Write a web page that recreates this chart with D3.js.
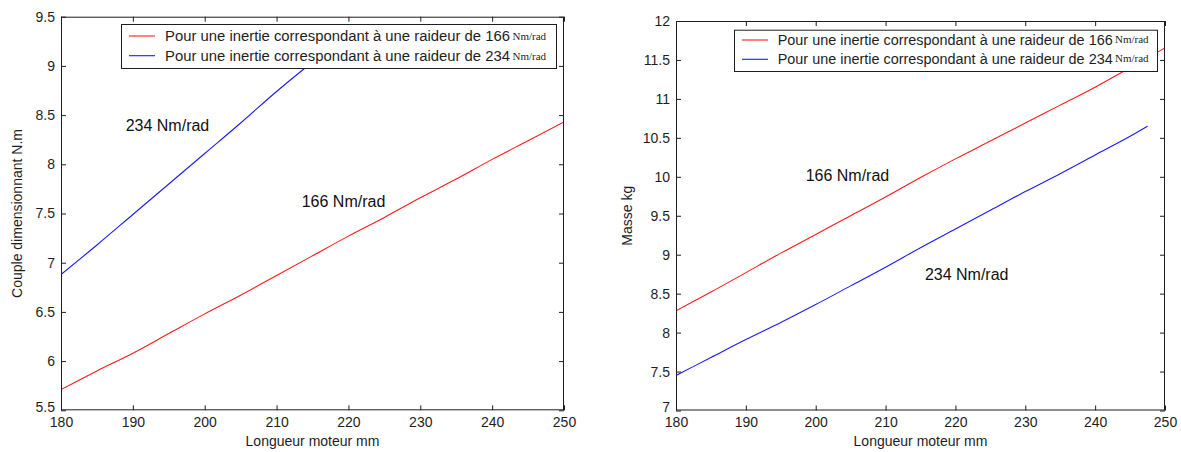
<!DOCTYPE html>
<html><head><meta charset="utf-8">
<script src="https://cdn.jsdelivr.net/npm/d3@7"></script>
<style>
html,body{margin:0;padding:0;background:#fff;}
svg{display:block;font-family:"Liberation Sans",Arial,sans-serif;}
</style></head>
<body><svg id="c" width="1181" height="452"></svg>
<script>
// ---------- data ----------
const xTicks = [180,190,200,210,220,230,240,250];
const xTickLabels = ["180","190","200","210","220","230","240","250"];
const leftYTicks = [5.5,6,6.5,7,7.5,8,8.5,9,9.5];
const leftYTickLabels = ["5.5","6","6.5","7","7.5","8","8.5","9","9.5"];
const rightYTicks = [7,7.5,8,8.5,9,9.5,10,10.5,11,11.5,12];
const rightYTickLabels = ["7","7.5","8","8.5","9","9.5","10","10.5","11","11.5","12"];

const lengths = [180,185,190,195,200,205,210,215,220,225,230,235,240,245,250];
// Left chart: Couple dimensionnant (N.m)
const coupleRaideur166 = [5.71,5.90,6.08,6.28,6.48,6.67,6.87,7.07,7.27,7.46,7.66,7.85,8.05,8.24,8.43];
const lengthsCouple234 = [180,185,190,195,200,205,210,215];
const coupleRaideur234 = [6.88,7.18,7.49,7.80,8.11,8.42,8.74,9.04];
// Right chart: Masse (kg)
const masseRaideur166 = [8.28,8.52,8.77,9.02,9.26,9.50,9.74,9.99,10.23,10.46,10.69,10.92,11.15,11.40,11.655];
const lengthsMasse234 = [180,185,190,195,200,205,210,215,220,225,230,235,240,245,247.5];
const masseRaideur234 = [7.45,7.68,7.91,8.13,8.36,8.60,8.84,9.09,9.33,9.57,9.81,10.04,10.28,10.52,10.65];

const legendMain = ["Pour une inertie correspondant à une raideur de 166","Pour une inertie correspondant à une raideur de 234"];
const legendUnit = "Nm/rad";
const seriesColors = ["#ff1a1a","#1a1aff"];

// ---------- drawing ----------
const svg = d3.select("#c");
const ink = "#1e1e1e";

function panel(cfg){
  const g = svg.append("g");
  const x = d3.scaleLinear().domain([180,250]).range([cfg.x0,cfg.x1]);
  const y = d3.scaleLinear().domain(cfg.yDomain).range([cfg.y1,cfg.y0]);
  const clipId = "clip"+cfg.id;
  svg.append("clipPath").attr("id",clipId).append("rect")
    .attr("x",cfg.x0).attr("y",cfg.y0).attr("width",cfg.x1-cfg.x0).attr("height",cfg.y1-cfg.y0);

  const line = d3.line().x(d=>x(d[0])).y(d=>y(d[1])).curve(d3.curveMonotoneX);
  cfg.series.forEach((s,i)=>{
    g.append("path").datum(d3.zip(s.xs,s.ys))
      .attr("d",line).attr("fill","none").attr("stroke",seriesColors[i])
      .attr("stroke-width",1.1).attr("clip-path","url(#"+clipId+")");
  });

  const xf = d=>xTickLabels[xTicks.indexOf(d)];
  const yf = d=>cfg.yLabels[cfg.yTicks.indexOf(d)];
  const axB = g.append("g").attr("transform",`translate(0,${cfg.y1})`)
    .call(d3.axisBottom(x).tickValues(xTicks).tickFormat(xf).tickSize(-5).tickSizeOuter(0).tickPadding(6.5));
  const axT = g.append("g").attr("transform",`translate(0,${cfg.y0})`)
    .call(d3.axisTop(x).tickValues(xTicks).tickFormat("").tickSize(-5).tickSizeOuter(0));
  const axL = g.append("g").attr("transform",`translate(${cfg.x0},0)`)
    .call(d3.axisLeft(y).tickValues(cfg.yTicks).tickFormat(yf).tickSize(-5).tickSizeOuter(0).tickPadding(6));
  const axR = g.append("g").attr("transform",`translate(${cfg.x1},0)`)
    .call(d3.axisRight(y).tickValues(cfg.yTicks).tickFormat("").tickSize(-5).tickSizeOuter(0));
  [axB,axT,axL,axR].forEach(a=>{
    a.select(".domain").remove();
    a.selectAll("line").attr("stroke",ink);
    a.selectAll("text").attr("fill",ink).style("font-size","14px").style("font-family","'Liberation Sans',Arial,sans-serif");
  });
  // lowest y label sits just above the first x label, as in the reference
  axL.selectAll(".tick").filter(d=>d===cfg.yDomain[0]).select("text").attr("dy","0.1em");

  g.append("rect").attr("x",cfg.x0+0.5).attr("y",cfg.y0+0.5)
    .attr("width",cfg.x1-cfg.x0-1).attr("height",cfg.y1-cfg.y0-1)
    .attr("fill","none").attr("stroke",ink).attr("stroke-width",1);

  // axis titles
  g.append("text").attr("x",(cfg.x0+cfg.x1)/2).attr("y",446).attr("text-anchor","middle")
    .attr("fill",ink).style("font-size","14px").text("Longueur moteur mm");
  g.append("text").attr("transform",`translate(${cfg.yTitleX},${(cfg.y0+cfg.y1)/2}) rotate(-90)`)
    .attr("text-anchor","middle").attr("dy","0.35em").attr("fill",ink).style("font-size","14px").text(cfg.yTitle);

  // annotations
  cfg.notes.forEach(n=>{
    g.append("text").attr("x",x(n.x)).attr("y",y(n.y)).attr("fill","#111")
      .style("font-size","16px").text(n.t);
  });

  // legend
  const L = cfg.legend;
  g.append("rect").attr("x",L.x+0.5).attr("y",L.y+0.5).attr("width",L.w).attr("height",L.h)
    .attr("fill","#fff").attr("stroke",ink).attr("stroke-width",1);
  legendMain.forEach((t,i)=>{
    const cy = L.rows[i];
    g.append("line").attr("x1",L.lx0).attr("x2",L.lx1).attr("y1",cy).attr("y2",cy)
      .attr("stroke",seriesColors[i]).attr("stroke-width",1.1);
    const tx = g.append("text").attr("x",L.tx).attr("y",cy+5).attr("fill",ink).style("font-size","14px");
    tx.append("tspan").text(t).attr("textLength",L.tw).attr("lengthAdjust","spacingAndGlyphs");
    g.append("text").attr("x",L.ux).attr("y",cy+5+L.udy).attr("fill",ink)
      .style("font-family","'Liberation Serif','Times New Roman',serif").style("font-size","11px").text(legendUnit);
  });
}

panel({id:"L",x0:61,x1:564,y0:16.7,y1:410.3,yDomain:[5.5,9.5],yTicks:leftYTicks,yLabels:leftYTickLabels,
  yTitle:"Couple dimensionnant N.m",yTitleX:17,
  series:[{xs:lengths,ys:coupleRaideur166},{xs:lengthsCouple234,ys:coupleRaideur234}],
  notes:[{x:189.0,y:8.34,t:"234 Nm/rad"},{x:213.5,y:7.563,t:"166 Nm/rad"}],
  legend:{x:121,y:24,w:435,h:44,rows:[36,55.7],lx0:129,lx1:155,tx:165,tw:345,ux:512.5,udy:-1}
});
panel({id:"R",x0:676,x1:1165,y0:21,y1:410.5,yDomain:[7,12],yTicks:rightYTicks,yLabels:rightYTickLabels,
  yTitle:"Masse kg",yTitleX:627,
  series:[{xs:lengths,ys:masseRaideur166},{xs:lengthsMasse234,ys:masseRaideur234}],
  notes:[{x:198.56,y:9.95,t:"166 Nm/rad"},{x:215.63,y:8.675,t:"234 Nm/rad"}],
  legend:{x:734,y:29.7,w:423,h:41.3,rows:[40,59.3],lx0:742,lx1:768,tx:777.7,tw:335,ux:1115,udy:-2.5}
});
</script></body></html>
